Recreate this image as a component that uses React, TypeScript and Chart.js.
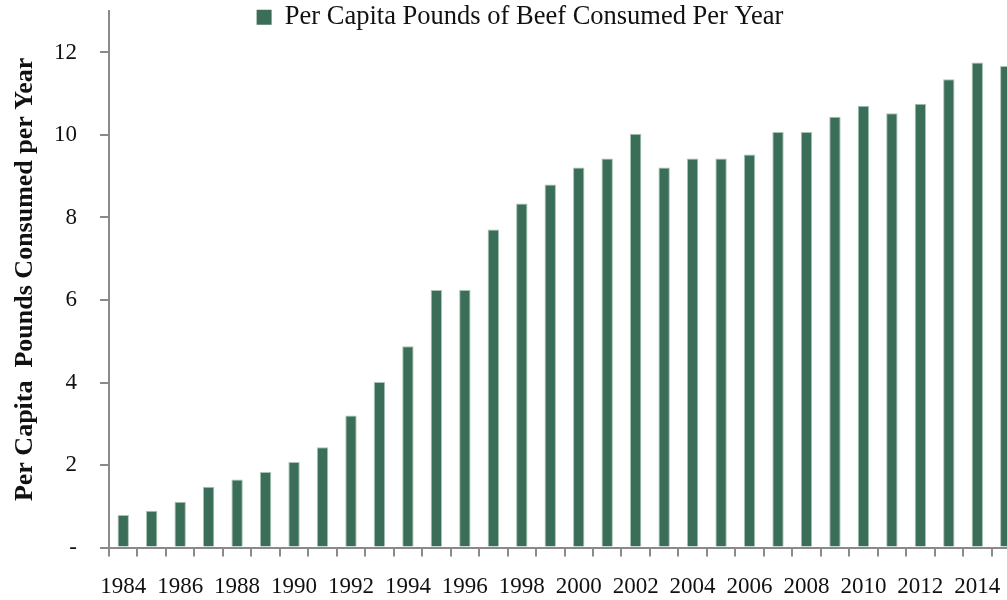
import React, { useEffect, useRef } from "react";
import { Chart, registerables } from "chart.js";

Chart.register(...registerables);

// Calendar years on the category axis
const years: string[] = [
  "1984", "1985", "1986", "1987", "1988", "1989", "1990", "1991",
  "1992", "1993", "1994", "1995", "1996", "1997", "1998", "1999",
  "2000", "2001", "2002", "2003", "2004", "2005", "2006", "2007",
  "2008", "2009", "2010", "2011", "2012", "2013", "2014", "2015",
];

// Per capita pounds of beef consumed each year
const beefPerCapita: number[] = [
  0.79, 0.89, 1.11, 1.47, 1.65, 1.83, 2.07, 2.43,
  3.20, 4.01, 4.88, 6.24, 6.24, 7.71, 8.34, 8.80,
  9.21, 9.43, 10.03, 9.21, 9.43, 9.43, 9.53, 10.07,
  10.07, 10.44, 10.71, 10.53, 10.76, 11.35, 11.76, 11.67,
];

// Value-axis tick positions
const yTickValues: number[] = [0, 2, 4, 6, 8, 10, 12];

const seriesLabel = "Per Capita Pounds of Beef Consumed Per Year";
const yAxisTitle = "Per Capita  Pounds Consumed per Year";

const SERIF = "'Liberation Serif', 'Times New Roman', serif";
const AXIS_GREY = "#8a8a8a";
const BAR_GREEN = "#3b6e58";
const BAR_EDGE = "#a8c3b3";

const CANVAS_W = 1038;
const CANVAS_H = 600;
const PLOT_TOP = 11.25;

// The legend sits over the top strip: it reserves only PLOT_TOP pixels of
// layout space, and its drawing box is widened afterwards so nothing is clipped.
const legendOverlay = {
  id: "legendOverlay",
  beforeInit(chart: any) {
    const legend = chart.legend;
    if (!legend) return;
    const fit = legend.fit;
    legend.fit = function () {
      fit.call(this);
      this.height = PLOT_TOP;
    };
  },
  afterLayout(chart: any) {
    const legend = chart.legend;
    if (!legend) return;
    legend.top = 0;
    legend.height = 40;
    legend.bottom = 40;
    // centre the legend on the full canvas width
    legend.right = chart.width + 2;
    legend.width = legend.right - legend.left;
  },
};

export default function App() {
  const canvasRef = useRef<HTMLCanvasElement | null>(null);

  useEffect(() => {
    const canvas = canvasRef.current;
    if (!canvas) return;

    const chart = new Chart(canvas, {
      type: "bar",
      data: {
        labels: years,
        datasets: [
          {
            label: seriesLabel,
            data: beefPerCapita,
            backgroundColor: BAR_GREEN,
            borderColor: BAR_EDGE,
            borderWidth: 1,
            borderSkipped: "start",
            barPercentage: 0.4,
            categoryPercentage: 1,
          },
        ],
      },
      options: {
        responsive: false,
        animation: false,
        devicePixelRatio: 1,
        layout: { padding: { left: 0, right: 18, top: 0, bottom: 0 } },
        plugins: {
          tooltip: { enabled: false },
          legend: {
            display: true,
            position: "top",
            align: "center",
            labels: {
              color: "#111",
              boxWidth: 15,
              boxHeight: 15,
              padding: 4,
              font: { family: SERIF, size: 26.5 },
              generateLabels: (c: any) => {
                const items = Chart.defaults.plugins.legend.labels.generateLabels(c);
                return items.map((it: any) => ({
                  ...it,
                  fillStyle: BAR_GREEN,
                  strokeStyle: BAR_GREEN,
                  lineWidth: 0,
                }));
              },
            },
          },
        },
        scales: {
          x: {
            type: "category",
            offset: true,
            grid: {
              offset: true,
              drawOnChartArea: false,
              drawTicks: true,
              tickLength: 9,
              color: AXIS_GREY,
              lineWidth: 2,
            },
            border: { display: true, color: AXIS_GREY, width: 2 },
            ticks: {
              autoSkip: false,
              maxRotation: 0,
              minRotation: 0,
              padding: 17,
              color: "#111",
              font: { family: SERIF, size: 23 },
              callback: (_v: any, i: number) => (i % 2 === 0 ? years[i] : ""),
            },
            afterFit: (scale: any) => {
              scale.height = 52.5;
              scale.paddingLeft = 0;
              scale.paddingRight = 0;
            },
          },
          y: {
            type: "linear",
            min: 0,
            max: 13,
            grid: {
              drawOnChartArea: false,
              drawTicks: true,
              tickLength: 9,
              color: AXIS_GREY,
              lineWidth: 2,
            },
            border: { display: true, color: AXIS_GREY, width: 2 },
            ticks: {
              padding: 23,
              color: "#111",
              font: { family: SERIF, size: 23 },
              callback: (v: any) => (Number(v) === 0 ? "-" : String(v)),
            },
            afterBuildTicks: (scale: any) => {
              scale.ticks = yTickValues.map((value) => ({ value }));
            },
            afterFit: (scale: any) => {
              scale.width = 109;
              scale.paddingTop = 0;
              scale.paddingBottom = 0;
            },
            title: {
              display: true,
              text: yAxisTitle,
              color: "#111",
              padding: { top: 10, bottom: 0 },
              font: { family: SERIF, size: 26, weight: "bold" },
            },
          },
        },
      },
      plugins: [legendOverlay],
    });

    return () => {
      chart.destroy();
    };
  }, []);

  return (
    <div
      style={{
        position: "fixed",
        left: 0,
        top: 0,
        width: 1007,
        height: CANVAS_H,
        overflow: "hidden",
        background: "#fff",
      }}
    >
      <canvas
        ref={canvasRef}
        width={CANVAS_W}
        height={CANVAS_H}
        style={{ display: "block", width: CANVAS_W, height: CANVAS_H }}
      />
    </div>
  );
}
